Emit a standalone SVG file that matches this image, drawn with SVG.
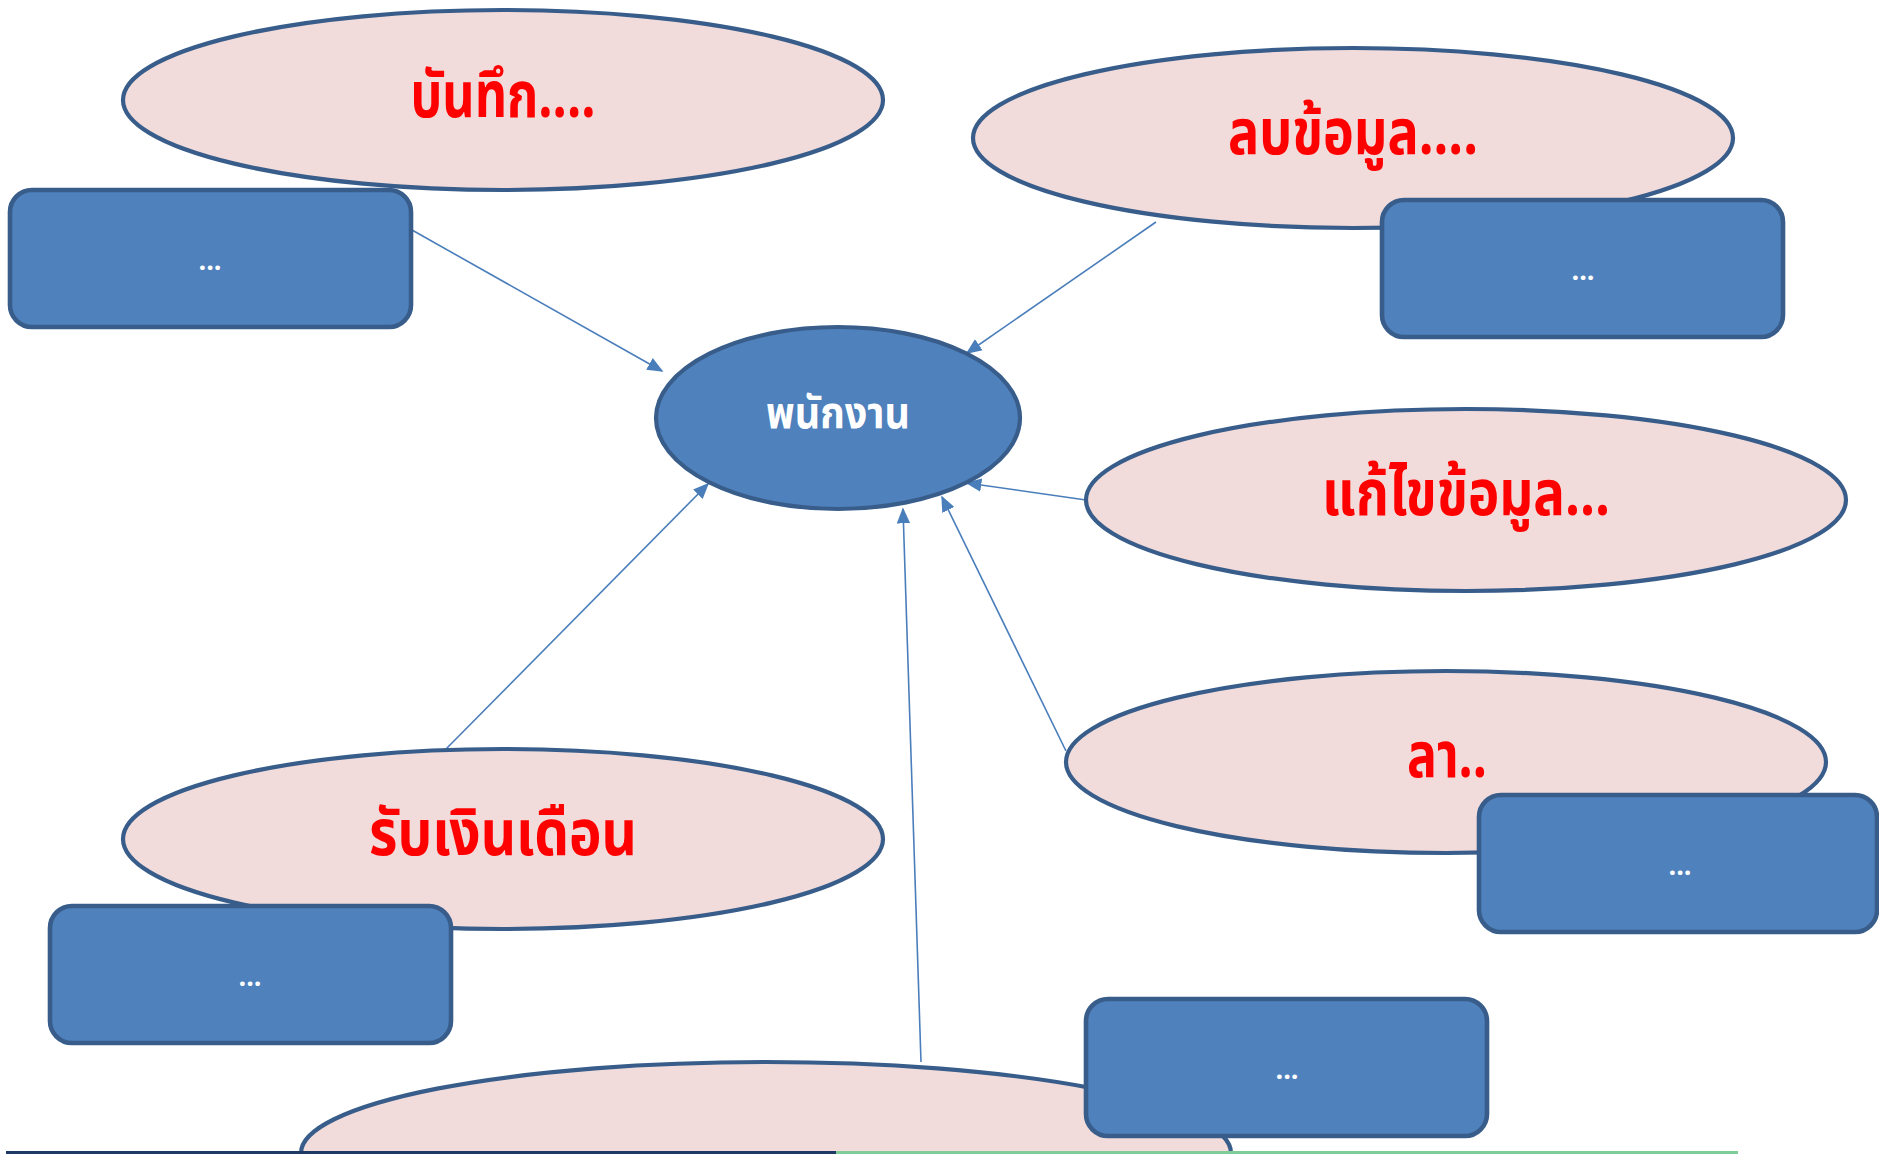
<svg xmlns="http://www.w3.org/2000/svg" width="1879" height="1154" viewBox="0 0 1879 1154">
<style>
.uc{fill:#F2DCDB;stroke:#385D8A;stroke-width:4.2}
.actor{fill:#4F81BD;stroke:#385D8A;stroke-width:4.2}
.box{fill:#4F81BD;stroke:#385D8A;stroke-width:4.6}
.red{fill:#FF0000;font-family:'Noto Sans Thai','Noto Sans','DejaVu Sans',sans-serif;font-weight:bold;font-size:64px;text-anchor:middle}
.wt{fill:#FFFFFF;font-family:'Noto Sans Thai','Noto Sans','DejaVu Sans',sans-serif;font-weight:bold;text-anchor:middle}
.dots{font-size:27px}
.con{stroke:#4A7EBB;stroke-width:1.6;fill:none;marker-end:url(#ah)}
</style>
<defs>
<marker id="ah" viewBox="0 0 10 10" refX="9" refY="5" markerWidth="16" markerHeight="16" markerUnits="userSpaceOnUse" orient="auto">
<path d="M0,0.8 L10,5 L0,9.2 z" fill="#4A7EBB"/>
</marker>
</defs>
<rect width="1879" height="1154" fill="#FFFFFF"/>
<g id="connectors">
<line class="con" x1="412" y1="230" x2="662" y2="371"/>
<line class="con" x1="1156" y1="222" x2="967" y2="353"/>
<line class="con" x1="1086" y1="500" x2="967" y2="483"/>
<line class="con" x1="1066" y1="751" x2="942" y2="497"/>
<line class="con" x1="921" y1="1062" x2="903" y2="509"/>
<line class="con" x1="446" y1="749" x2="708" y2="484"/>
</g>
<g id="uc-record">
<ellipse class="uc" cx="503" cy="100" rx="380" ry="90"/>
<text class="red" x="503" y="117" textLength="185" lengthAdjust="spacingAndGlyphs">บันทึก....</text>
</g>
<g id="box-1">
<rect class="box" x="10" y="190" width="401" height="137" rx="22"/>
<text class="wt dots" x="210" y="270">...</text>
</g>
<g id="uc-delete">
<ellipse class="uc" cx="1353" cy="138" rx="380" ry="90"/>
<text class="red" x="1353" y="154" textLength="250" lengthAdjust="spacingAndGlyphs">ลบข้อมูล....</text>
</g>
<g id="box-2">
<rect class="box" x="1382" y="200" width="401" height="137" rx="22"/>
<text class="wt dots" x="1583" y="280">...</text>
</g>
<g id="actor">
<ellipse class="actor" cx="838" cy="418" rx="182" ry="91"/>
<text class="wt" x="838" y="428" font-size="44" textLength="144" lengthAdjust="spacingAndGlyphs">พนักงาน</text>
</g>
<g id="uc-edit">
<ellipse class="uc" cx="1466" cy="500" rx="380" ry="91"/>
<text class="red" x="1466" y="515" textLength="288" lengthAdjust="spacingAndGlyphs">แก้ไขข้อมูล...</text>
</g>
<g id="uc-leave">
<ellipse class="uc" cx="1446" cy="762" rx="380" ry="91"/>
<text class="red" x="1447" y="777" textLength="80" lengthAdjust="spacingAndGlyphs">ลา..</text>
</g>
<g id="box-3">
<rect class="box" x="1479" y="795" width="398" height="137" rx="22"/>
<text class="wt dots" x="1680" y="875">...</text>
</g>
<g id="uc-salary">
<ellipse class="uc" cx="503" cy="839" rx="380" ry="90"/>
<text class="red" x="503" y="855" textLength="268" lengthAdjust="spacingAndGlyphs">รับเงินเดือน</text>
</g>
<g id="box-4">
<rect class="box" x="50" y="906" width="401" height="137" rx="22"/>
<text class="wt dots" x="250" y="986">...</text>
</g>
<g id="uc-bottom">
<ellipse class="uc" cx="766" cy="1153" rx="465" ry="91"/>
</g>
<g id="box-5">
<rect class="box" x="1086" y="999" width="401" height="137" rx="22"/>
<text class="wt dots" x="1287" y="1079">...</text>
</g>
<g id="footer-line">
<rect x="6" y="1151" width="830" height="3" fill="#1F3864"/>
<rect x="836" y="1151" width="902" height="3" fill="#7FCC99"/>
</g>
</svg>
